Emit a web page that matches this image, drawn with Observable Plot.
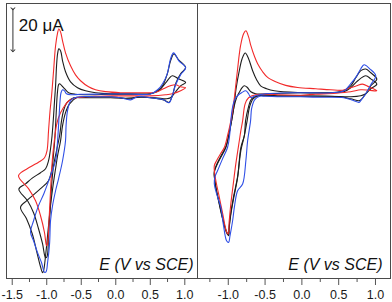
<!DOCTYPE html>
<html><head><meta charset="utf-8">
<script src="https://cdn.jsdelivr.net/npm/d3@7"></script>
<script src="https://cdn.jsdelivr.net/npm/@observablehq/plot@0.6"></script>
<style>
body{margin:0;background:#fff;}
#chart{display:flex;width:392px;height:302px;}
#chart svg{overflow:visible;font-family:"Liberation Sans",Arial,sans-serif;}
</style></head><body><div id="chart"></div>
<script>
// tick values (V vs SCE)
const leftTicks = [-1.5, -1.0, -0.5, 0.0, 0.5, 1.0];
const leftMinor = [-1.25, -0.75, -0.25, 0.25, 0.75];
const rightTicks = [-1.0, -0.5, 0.0, 0.5, 1.0];
const rightMinor = [-1.25, -0.75, -0.25, 0.25, 0.75];
const axisLabel = "E (V vs SCE)";
const scaleLabel = "20 μA";
const scaleBar = [[-1.49, 40.5], [-1.49, 20.5]]; // 20 μA bar
const seriesNames = ["blackA", "blackB", "red", "blue"];
const seriesColors = ["#1e1e1e", "#1e1e1e", "#f22a2a", "#2f4fe6"];

// Left panel: [E (V), I (μA)]
const leftRed = [[-0.05,-1.0],[-0.22,-1.2],[-0.44,-1.4],[-0.58,-1.9],[-0.68,-3.3],[-0.76,-6.7],[-0.83,-11.4],[-0.86,-15.2],[-0.89,-22.4],[-0.92,-31.9],[-0.945,-46.2],[-0.967,-60.5],[-0.988,-71.4],[-1.003,-72.4],[-1.032,-66.2],[-1.09,-58.1],[-1.162,-51.0],[-1.264,-45.2],[-1.409,-39.0],[-1.235,-34.8],[-1.119,-32.6],[-1.032,-30.5],[-0.996,-27.1],[-0.974,-17.6],[-0.952,-8.1],[-0.93,-1.0],[-0.901,11.0],[-0.872,22.9],[-0.843,29.0],[-0.825,31.0],[-0.80,29.5],[-0.771,25.2],[-0.728,19.5],[-0.655,13.3],[-0.583,9.0],[-0.51,6.2],[-0.394,3.3],[-0.293,1.9],[-0.148,1.0],[0.07,0.5],[0.36,0.5],[0.58,0.7],[0.69,2.4],[0.79,3.8],[0.867,4.3],[0.94,3.3],[1.01,2.9],[0.94,1.4],[0.82,0.0],[0.72,-0.5],[0.50,-1.0],[0.21,-1.0],[-0.05,-1.0]];
const leftBlackA = [[-0.075,-1.4],[-0.29,-1.4],[-0.51,-1.7],[-0.61,-1.9],[-0.71,-4.3],[-0.757,-8.1],[-0.786,-12.9],[-0.814,-20.0],[-0.858,-27.1],[-0.901,-34.3],[-0.93,-43.8],[-0.952,-55.7],[-0.974,-67.6],[-0.996,-77.6],[-1.017,-78.1],[-1.061,-71.4],[-1.119,-64.3],[-1.191,-56.7],[-1.278,-51.0],[-1.404,-45.4],[-1.307,-42.9],[-1.21,-40.2],[-1.09,-37.6],[-1.017,-35.7],[-0.974,-31.9],[-0.945,-26.2],[-0.923,-20.0],[-0.901,-10.5],[-0.887,-3.3],[-0.872,3.8],[-0.858,13.3],[-0.843,19.0],[-0.825,21.4],[-0.80,20.5],[-0.771,15.7],[-0.728,10.5],[-0.655,5.7],[-0.554,2.9],[-0.438,1.4],[-0.293,0.5],[-0.075,0.0],[0.214,0.0],[0.504,0.0],[0.606,1.4],[0.678,3.8],[0.746,9.4],[0.794,15.7],[0.842,19.0],[0.91,16.2],[1.012,12.5],[0.939,9.5],[0.867,4.8],[0.819,-0.95],[0.77,-4.1],[0.693,-2.9],[0.504,-1.9],[0.316,-1.4],[0.214,-2.4],[0.07,-1.9],[-0.075,-1.4]];
const leftBlackB = [[-0.075,-1.9],[-0.29,-1.9],[-0.51,-1.9],[-0.568,-1.9],[-0.67,-4.8],[-0.728,-9.0],[-0.771,-15.2],[-0.80,-22.4],[-0.843,-29.5],[-0.872,-35.7],[-0.909,-43.8],[-0.945,-53.3],[-0.981,-65.2],[-1.017,-77.1],[-1.046,-84.3],[-1.061,-85.2],[-1.09,-82.4],[-1.148,-74.8],[-1.21,-66.7],[-1.293,-59.5],[-1.38,-54.1],[-1.293,-51.0],[-1.21,-48.6],[-1.09,-45.2],[-0.974,-41.4],[-0.93,-36.7],[-0.901,-28.6],[-0.88,-20.0],[-0.865,-10.5],[-0.854,-3.3],[-0.843,1.4],[-0.829,4.3],[-0.814,4.8],[-0.786,4.0],[-0.742,2.4],[-0.684,0.5],[-0.583,-0.24],[-0.365,-0.48],[-0.075,-0.24],[0.214,-0.24],[0.504,0.0],[0.62,1.4],[0.722,5.2],[0.819,8.6],[0.91,7.1],[1.012,5.4],[0.939,3.8],[0.867,0.95],[0.794,-1.9],[0.736,-2.4],[0.577,-1.9],[0.359,-1.67],[0.142,-2.1],[-0.075,-1.9]];
const leftBlue = [[-0.075,-1.4],[-0.29,-1.4],[-0.51,-1.4],[-0.597,-1.9],[-0.655,-3.3],[-0.699,-8.1],[-0.72,-15.2],[-0.728,-22.4],[-0.771,-31.9],[-0.829,-40.5],[-0.872,-46.2],[-0.916,-53.3],[-0.945,-60.5],[-0.959,-71.4],[-0.988,-80.5],[-1.01,-84.8],[-1.032,-85.0],[-1.075,-80.5],[-1.133,-75.7],[-1.191,-70.0],[-1.235,-66.0],[-1.191,-60.5],[-1.119,-53.3],[-1.042,-47.6],[-0.945,-39.0],[-0.872,-31.9],[-0.843,-22.4],[-0.825,-12.9],[-0.807,-3.3],[-0.793,0.5],[-0.771,1.9],[-0.742,1.4],[-0.713,0.0],[-0.655,-0.48],[-0.51,-0.24],[-0.22,-0.14],[0.214,-0.14],[0.504,-0.14],[0.606,1.9],[0.678,4.8],[0.746,9.5],[0.794,16.7],[0.838,19.5],[0.914,15.7],[1.012,12.4],[0.939,9.0],[0.867,4.3],[0.819,-0.95],[0.77,-4.3],[0.693,-2.9],[0.504,-1.9],[0.316,-1.4],[0.214,-2.9],[0.07,-1.9],[-0.075,-1.4]];

// Right panel: [E (V), I (μA)]
const rightRed = [[-0.016,-0.71],[-0.288,-0.48],[-0.493,-0.24],[-0.629,-0.48],[-0.724,-1.9],[-0.771,-4.8],[-0.805,-12.9],[-0.829,-17.6],[-0.85,-22.4],[-0.897,-33.3],[-0.935,-43.8],[-0.965,-52.4],[-0.989,-61.4],[-1.0,-66.8],[-1.023,-65.7],[-1.078,-56.7],[-1.132,-47.6],[-1.173,-40.5],[-1.19,-34.3],[-1.159,-31.9],[-1.105,-28.6],[-1.054,-25.6],[-1.01,-20.0],[-0.965,-12.9],[-0.941,-8.1],[-0.914,-0.95],[-0.873,11.9],[-0.833,22.9],[-0.792,28.6],[-0.761,30.0],[-0.724,27.1],[-0.693,22.9],[-0.642,17.6],[-0.601,14.3],[-0.533,10.5],[-0.465,7.8],[-0.356,5.7],[-0.22,4.0],[-0.057,3.0],[0.188,2.4],[0.392,1.9],[0.555,1.7],[0.664,2.9],[0.746,3.8],[0.823,4.6],[0.909,3.3],[1.018,1.4],[0.909,1.7],[0.80,1.9],[0.664,0.95],[0.46,0.24],[0.188,-0.24],[-0.016,-0.71]];
const rightBlackA = [[-0.016,-1.19],[-0.288,-1.19],[-0.493,-0.95],[-0.601,-0.95],[-0.683,-2.4],[-0.731,-7.1],[-0.765,-12.9],[-0.782,-20.0],[-0.829,-25.6],[-0.873,-39.9],[-0.928,-50.0],[-0.965,-57.3],[-0.989,-64.3],[-0.996,-67.6],[-1.023,-66.2],[-1.078,-59.5],[-1.132,-51.0],[-1.169,-44.6],[-1.19,-37.6],[-1.159,-34.3],[-1.105,-30.5],[-1.033,-25.6],[-0.989,-19.0],[-0.955,-12.9],[-0.918,-4.8],[-0.894,2.4],[-0.85,11.0],[-0.812,16.7],[-0.769,19.4],[-0.724,16.7],[-0.669,11.0],[-0.615,6.7],[-0.561,3.8],[-0.479,2.4],[-0.374,1.4],[-0.057,0.6],[0.392,0.5],[0.569,1.4],[0.664,3.8],[0.732,7.6],[0.80,11.0],[0.868,11.8],[0.936,10.0],[1.018,7.0],[0.936,3.8],[0.868,0.0],[0.80,-2.9],[0.777,-3.3],[0.664,-2.4],[0.528,-1.43],[0.256,-1.19],[-0.016,-1.19]];
const rightBlackB = [[-0.016,-0.95],[-0.288,-0.95],[-0.493,-0.71],[-0.588,-0.95],[-0.663,-2.4],[-0.71,-6.2],[-0.744,-12.9],[-0.782,-20.0],[-0.829,-27.1],[-0.873,-39.5],[-0.928,-49.0],[-0.965,-56.7],[-0.989,-63.8],[-0.996,-67.1],[-1.023,-65.7],[-1.078,-59.0],[-1.132,-50.5],[-1.169,-44.3],[-1.19,-37.1],[-1.159,-33.8],[-1.105,-30.0],[-1.033,-25.2],[-0.989,-19.0],[-0.955,-12.9],[-0.918,-5.7],[-0.887,-1.9],[-0.846,0.95],[-0.812,2.9],[-0.782,3.8],[-0.744,3.1],[-0.693,0.95],[-0.629,0.0],[-0.556,-0.14],[-0.288,0.24],[-0.016,0.5],[0.392,0.5],[0.569,0.95],[0.664,2.9],[0.759,6.2],[0.868,8.6],[0.936,7.1],[1.018,4.6],[0.936,2.4],[0.868,0.0],[0.80,-0.95],[0.664,-1.43],[0.392,-1.19],[-0.016,-0.95]];
const rightBlue = [[-0.016,-1.43],[-0.288,-1.43],[-0.493,-1.19],[-0.574,-1.19],[-0.642,-2.9],[-0.683,-7.1],[-0.697,-12.9],[-0.737,-22.4],[-0.761,-31.9],[-0.805,-43.0],[-0.873,-46.2],[-0.914,-53.3],[-0.941,-60.5],[-0.976,-67.6],[-0.996,-70.8],[-1.023,-70.0],[-1.064,-62.9],[-1.101,-54.1],[-1.159,-47.6],[-1.19,-42.9],[-1.18,-39.5],[-1.146,-36.7],[-1.078,-31.0],[-1.01,-25.6],[-0.982,-20.0],[-0.965,-12.9],[-0.941,-6.2],[-0.907,-2.4],[-0.86,-0.48],[-0.819,0.5],[-0.761,1.4],[-0.724,0.0],[-0.693,-1.76],[-0.629,-0.95],[-0.493,0.0],[-0.057,0.5],[0.392,0.5],[0.573,1.4],[0.664,4.8],[0.732,7.8],[0.80,11.9],[0.845,13.8],[0.922,11.9],[1.004,8.6],[0.936,4.3],[0.868,0.0],[0.80,-3.3],[0.777,-4.1],[0.691,-3.1],[0.569,-1.9],[0.256,-1.67],[-0.016,-1.43]];

function rows(curves) {
  return seriesNames.flatMap((name, k) => curves[k].map(([E, I], i) => ({name, E, I, i})));
}

function panel({width, marginLeft, marginRight, xDomain, ticks, minor, curves, labelDx, withScale}) {
  const marks = [
    Plot.axisX({ticks: minor, tickSize: 4, tickFormat: () => "", stroke: "#555", label: null}),
    Plot.axisX({ticks, tickSize: 7, tickPadding: 5, tickFormat: d => d.toFixed(1), stroke: "#555", fill: "#1a1a1a", fontSize: 12.5, label: null}),
    Plot.line(rows(curves), {x: "E", y: "I", z: "name", stroke: "name", strokeWidth: 1.1, curve: "catmull-rom"}),
    Plot.frame({stroke: "#4a4a4a"}),
    Plot.text([axisLabel], {frameAnchor: "bottom-right", dx: labelDx, dy: -9, fontSize: 16, fontStyle: "italic", fill: "#111"})
  ];
  if (withScale) {
    marks.push(
      Plot.line(scaleBar, {x: d => d[0], y: d => d[1], stroke: "#333", strokeWidth: 1, markerStart: "arrow", markerEnd: "arrow"}),
      Plot.text([scaleLabel], {frameAnchor: "top-left", dx: 12.3, dy: 15.6, fontSize: 17, fill: "#111"})
    );
  }
  return Plot.plot({
    width, height: 302, marginLeft, marginRight, marginTop: 3, marginBottom: 24,
    x: {domain: xDomain},
    y: {domain: [-88, 43], axis: null},
    color: {domain: seriesNames, range: seriesColors},
    style: {fontFamily: "'Liberation Sans', Arial, sans-serif", fontSize: "12.5px", overflow: "visible"},
    marks
  });
}

const chart = document.getElementById("chart");
chart.append(panel({width: 197, marginLeft: 6, marginRight: 0, xDomain: [-1.583, 1.184], ticks: leftTicks, minor: leftMinor, curves: [leftBlackA, leftBlackB, leftRed, leftBlue], labelDx: -4, withScale: true}));
chart.append(panel({width: 195, marginLeft: 0, marginRight: 2, xDomain: [-1.418, 1.204], ticks: rightTicks, minor: rightMinor, curves: [rightBlackA, rightBlackB, rightRed, rightBlue], labelDx: -8, withScale: false}));
</script></body></html>
